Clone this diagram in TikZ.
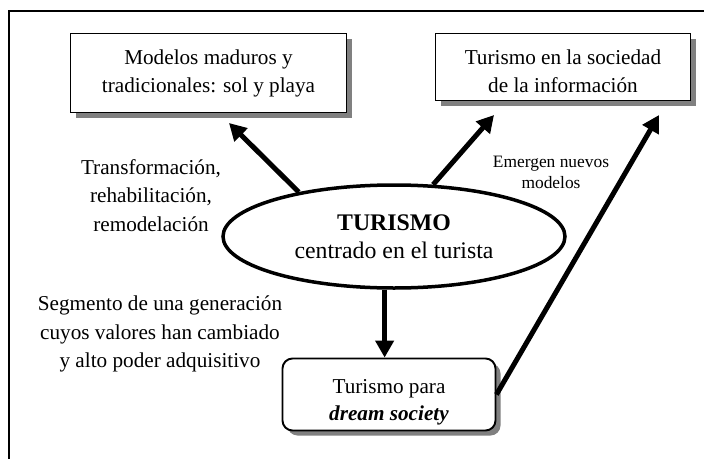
\documentclass[tikz,border=0pt]{standalone}
\usepackage{fontspec}
\setmainfont{Liberation Serif}
\usetikzlibrary{shapes.geometric,arrows.meta,shadows}
\tikzset{
  boxshape/.style={draw=black, line width=1.9pt, fill=white, inner sep=0pt,
     drop shadow={shadow xshift=5pt, shadow yshift=-5pt, fill=black!50, opacity=1}},
  maintext/.style={align=center, inner sep=0pt, font=\fontsize{21.2pt}{28.5pt}\selectfont},
  smalltext/.style={align=center, inner sep=0pt, font=\fontsize{17.4pt}{21pt}\selectfont},
  bigarrow/.style={line width=5pt, -{Triangle[length=17pt,width=18pt]}},
}
\begin{document}
\begin{tikzpicture}[x=1pt,y=-1pt]
\clip (0,0) rectangle (704,458);
\fill[white] (0,0) rectangle (704,458);
\draw[line width=2.2pt] (9,11) rectangle (720,475);

% boxes
\node[boxshape, minimum width=276pt, minimum height=79pt] (boxL) at (208.5,73) {};
\node[maintext] (txtL) at (208.5,73.3) {Modelos maduros y\\tradicionales: sol y playa};

\node[boxshape, minimum width=255pt, minimum height=67pt] (boxR) at (563,67) {};
\node[maintext] (txtR) at (563,71.1) {Turismo en la sociedad\\de la información};

\node[boxshape, rounded corners=10pt, minimum width=213pt, minimum height=72pt] (bb) at (389,394.5) {};
\node[align=center, inner sep=0pt, font=\fontsize{21.2pt}{27pt}\selectfont] (txtB) at (389,402.5) {Turismo para\\\textbf{\textit{dream society}}};

% ellipse
\node[ellipse, draw, line width=3.5pt, fill=white, minimum width=342pt, minimum height=103pt, inner sep=0pt,
      align=center, font=\fontsize{23.8pt}{28pt}\selectfont] (el) at (394,236.5)
      {\textbf{TURISMO}\\centrado en el turista};

% labels
\node[maintext] (lab1) at (151,195.5) {Transformación,\\rehabilitación,\\remodelación};
\node[smalltext] (lab2) at (551,172.5) {Emergen nuevos\\modelos};
\node[maintext] (lab3) at (160,334.3) {Segmento de una generación\\cuyos valores han cambiado\\y alto poder adquisitivo};

% arrow ends
\coordinate (tipL) at (229,123);
\coordinate (tipM) at (494,115);
\coordinate (tipR) at (659,115);

\draw[bigarrow] (el.155) -- (tipL);
\draw[bigarrow] (el.53) -- (tipM);
\draw[bigarrow] (el.260) -- (el.260 |- bb.north);
\draw[bigarrow] (bb.east) -- (tipR);
\end{tikzpicture}
\end{document}
